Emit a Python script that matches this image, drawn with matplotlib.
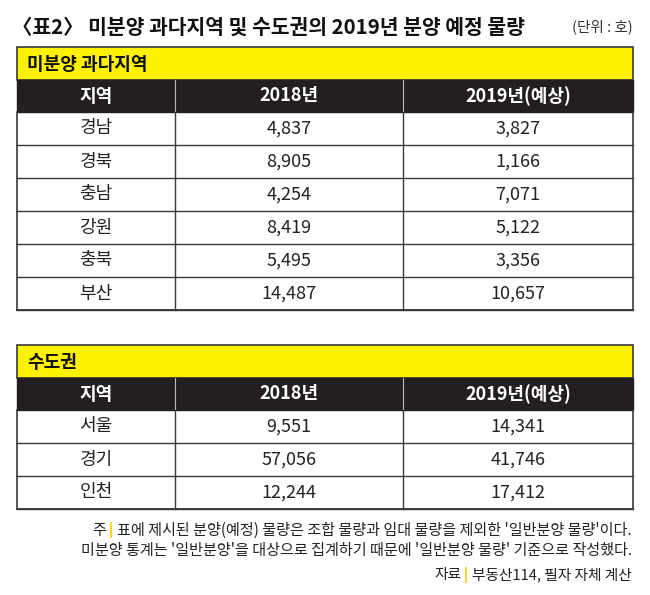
import matplotlib.pyplot as plt
from matplotlib.patches import Rectangle

plt.rcParams['font.family'] = ['Noto Sans CJK KR', 'DejaVu Sans']

# data
title = '〈표2〉 미분양 과다지역 및 수도권의 2019년 분양 예정 물량'
unit = '(단위 : 호)'
columns = ['지역', '2018년', '2019년(예상)']

group1 = '미분양 과다지역'
regions1 = ['경남', '경북', '충남', '강원', '충북', '부산']
y2018_1 = [4837, 8905, 4254, 8419, 5495, 14487]
y2019_1 = [3827, 1166, 7071, 5122, 3356, 10657]

group2 = '수도권'
regions2 = ['서울', '경기', '인천']
y2018_2 = [9551, 57056, 12244]
y2019_2 = [14341, 41746, 17412]

note_label = '주'
note1 = "표에 제시된 분양(예정) 물량은 조합 물량과 임대 물량을 제외한 '일반분양 물량'이다."
note2 = "미분양 통계는 '일반분양'을 대상으로 집계하기 때문에 '일반분양 물량' 기준으로 작성했다."
source_label = '자료'
source = '부동산114, 필자 자체 계산'

YELLOW = '#fff200'
DARK = '#231f20'
LINE = '#3a3a3a'

fig = plt.figure(figsize=(6.5, 5.95), dpi=100)
ax = fig.add_axes([0, 0, 1, 1])
ax.set_xlim(0, 650)
ax.set_ylim(595, 0)
ax.axis('off')

col_x = [17, 175, 403, 633]


def draw_table(top, name, regions, a, b):
    # yellow band
    ax.add_patch(Rectangle((col_x[0], top), col_x[-1] - col_x[0], 33,
                           facecolor=YELLOW, edgecolor=LINE, lw=1.2))
    ax.text(col_x[0] + 10, top + 17, name, fontsize=13, fontweight='bold',
            va='center', ha='left', color='#111111')
    # header row
    hy = top + 33
    ax.add_patch(Rectangle((col_x[0], hy), col_x[-1] - col_x[0], 32,
                           facecolor=DARK, edgecolor=DARK, lw=1))
    for i, c in enumerate(columns):
        cx = (col_x[i] + col_x[i + 1]) / 2
        ax.text(cx, hy + 16, c, fontsize=13, fontweight='bold',
                color='white', ha='center', va='center')
    for x in col_x[1:-1]:
        ax.plot([x, x], [hy, hy + 32], color='#bbbbbb', lw=0.8)
    # data rows
    ry = hy + 32
    rh = 33
    for r, (reg, v1, v2) in enumerate(zip(regions, a, b)):
        y0 = ry + r * rh
        vals = [reg, f'{v1:,}', f'{v2:,}']
        for i, v in enumerate(vals):
            cx = (col_x[i] + col_x[i + 1]) / 2
            ax.text(cx, y0 + rh / 2, v, fontsize=13, color='#222222',
                    ha='center', va='center')
        ax.plot([col_x[0], col_x[-1]], [y0 + rh, y0 + rh], color=LINE, lw=1)
    bottom = ry + len(regions) * rh
    for x in col_x:
        ax.plot([x, x], [ry, bottom], color=LINE, lw=1.2 if x in (col_x[0], col_x[-1]) else 1)
    ax.plot([col_x[0], col_x[-1]], [bottom, bottom], color=LINE, lw=1.4)


renderer = fig.canvas.get_renderer()


def labelled_line(y, label, body, size):
    # body right aligned, then yellow bar and label placed to its left
    t = ax.text(632, y, body, fontsize=size, ha='right', va='center', color='#222222')
    bb = t.get_window_extent(renderer)
    left = ax.transData.inverted().transform((bb.x0, bb.y0))[0]
    ax.plot([left - 6, left - 6], [y - 7, y + 7], color='#f2d000', lw=1.2)
    ax.text(left - 11, y, label, fontsize=size, ha='right', va='center', color='#222222')


ax.text(12, 27, title, fontsize=14.7, fontweight='bold', ha='left', va='center', color='#111111')
ax.text(633, 27, unit, fontsize=10.5, ha='right', va='center', color='#333333')

draw_table(47, group1, regions1, y2018_1, y2019_1)
draw_table(345, group2, regions2, y2018_2, y2019_2)

labelled_line(530, note_label, note1, 10.9)
ax.text(632, 551, note2, fontsize=10.9, ha='right', va='center', color='#222222')
labelled_line(575, source_label, source, 10.6)

fig.savefig('out.png', dpi=100)
